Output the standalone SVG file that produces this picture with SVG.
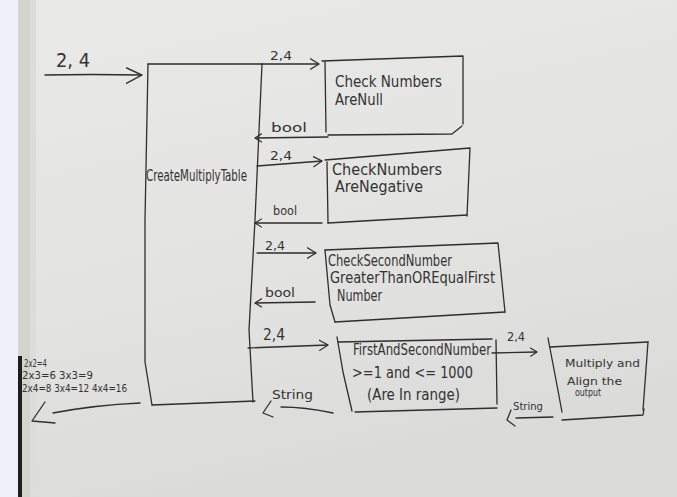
<svg xmlns="http://www.w3.org/2000/svg" width="677" height="497" viewBox="0 0 677 497">
  <defs>
    <linearGradient id="paper" x1="0" y1="0" x2="0.3" y2="1">
      <stop offset="0" stop-color="#e9e9e7"/>
      <stop offset="0.6" stop-color="#e3e3e1"/>
      <stop offset="1" stop-color="#dbdbd9"/>
    </linearGradient>
    <marker id="chev" viewBox="0 0 10 12" refX="10" refY="6" markerWidth="9" markerHeight="12" markerUnits="userSpaceOnUse" orient="auto">
      <path d="M0,0 L10,6 L0,12" fill="none" stroke="#2e2e2e" stroke-width="1.3"/>
    </marker>
    <marker id="chevBig" viewBox="0 0 16 18" refX="16" refY="8" markerWidth="16" markerHeight="18" markerUnits="userSpaceOnUse" orient="auto">
      <path d="M0,1 L16,8 L0,17" fill="none" stroke="#2e2e2e" stroke-width="1.4"/>
    </marker>
    <marker id="chevSmall" viewBox="0 0 8 10" refX="8" refY="5" markerWidth="7" markerHeight="10" markerUnits="userSpaceOnUse" orient="auto">
      <path d="M0,0 L8,5 L0,10" fill="none" stroke="#2e2e2e" stroke-width="1.3"/>
    </marker>
  </defs>
  <style>
    .ink { fill: none; stroke: #2e2e2e; stroke-width: 1.3; stroke-linecap: round; stroke-linejoin: round; }
    .arrow { marker-end: url(#chev); }
    .back { marker-end: url(#chevSmall); }
    text { font-family: "DejaVu Sans Condensed", "DejaVu Sans", sans-serif; fill: #333333; }
    .lbl { font-size: 15px; }
    .flow { font-size: 13px; }
    .tiny { font-size: 10px; }
  </style>

  <!-- page, paper edge and binding shadow -->
  <rect x="0" y="0" width="677" height="497" fill="url(#paper)"/>
  <rect x="0" y="0" width="18" height="497" fill="#eef2f8"/>
  <rect x="18" y="0" width="12" height="497" fill="#d4d4cf"/>
  <rect x="30" y="0" width="6" height="497" fill="#dcdcd8"/>
  <rect x="18" y="356" width="4" height="141" fill="#1e1e1e"/>

  <!-- calling function -->
  <g id="create-multiply-table">
    <path class="ink" d="M148,64 L262,64"/>
    <path class="ink" d="M148,64 L145,220 L145,362 L152,405"/>
    <path class="ink" d="M152,405 L255,401"/>
    <path class="ink" d="M262,64 L255,220 L249,330 L253,402"/>
    <text class="lbl" x="146" y="181" font-size="14" textLength="101" lengthAdjust="spacingAndGlyphs">CreateMultiplyTable</text>
  </g>

  <g id="check-null">
    <path class="ink" d="M322,61 L463,56 L463,124"/>
    <path class="ink" d="M325,62 L326,132"/>
    <path class="ink" d="M328,135 L452,134 L462,126"/>
    <text class="lbl" x="335" y="87" textLength="107" lengthAdjust="spacingAndGlyphs">Check Numbers</text>
    <text class="lbl" x="335" y="105" textLength="48" lengthAdjust="spacingAndGlyphs">AreNull</text>
  </g>

  <g id="check-negative">
    <path class="ink" d="M325,160 L470,148 L467,216"/>
    <path class="ink" d="M327,162 L328,223"/>
    <path class="ink" d="M328,223 L467,215"/>
    <text class="lbl" x="332" y="175" textLength="110" lengthAdjust="spacingAndGlyphs">CheckNumbers</text>
    <text class="lbl" x="335" y="192" textLength="88" lengthAdjust="spacingAndGlyphs">AreNegative</text>
  </g>

  <g id="check-order">
    <path class="ink" d="M325,250 L498,243 L505,312"/>
    <path class="ink" d="M325,250 L330,305 L335,322"/>
    <path class="ink" d="M335,322 L505,312"/>
    <text class="lbl" x="328" y="266" font-size="14" textLength="124" lengthAdjust="spacingAndGlyphs">CheckSecondNumber</text>
    <text class="lbl" x="330" y="283" font-size="14" textLength="165" lengthAdjust="spacingAndGlyphs">GreaterThanOREqualFirst</text>
    <text class="lbl" x="337" y="301" font-size="14" textLength="45" lengthAdjust="spacingAndGlyphs">Number</text>
  </g>

  <g id="check-range">
    <path class="ink" d="M338,342 L492,339"/>
    <path class="ink" d="M337,337 L343,372 L352,411"/>
    <path class="ink" d="M496,340 L497,404"/>
    <path class="ink" d="M355,412 L497,408"/>
    <text class="lbl" x="353" y="355" font-size="12.5" textLength="138" lengthAdjust="spacingAndGlyphs">FirstAndSecondNumber</text>
    <text class="lbl" x="352" y="378" textLength="121" lengthAdjust="spacingAndGlyphs">&gt;=1 and &lt;= 1000</text>
    <text class="lbl" x="367" y="400" textLength="93" lengthAdjust="spacingAndGlyphs">(Are In range)</text>
  </g>

  <g id="multiply-align">
    <path class="ink" d="M550,347 L648,342"/>
    <path class="ink" d="M548,338 L556,380 L562,412"/>
    <path class="ink" d="M648,342 L643,410"/>
    <path class="ink" d="M562,420 L643,415 L644,409"/>
    <text class="tiny" x="565" y="367" font-size="11" textLength="75" lengthAdjust="spacingAndGlyphs">Multiply and</text>
    <text class="tiny" x="567" y="385" font-size="11" textLength="55" lengthAdjust="spacingAndGlyphs">Align the</text>
    <text class="tiny" x="575" y="396" textLength="26" lengthAdjust="spacingAndGlyphs">output</text>
  </g>

  <g id="result">
    <text class="tiny" x="24" y="367" textLength="23" lengthAdjust="spacingAndGlyphs">2x2=4</text>
    <text class="tiny" x="22" y="379" textLength="71" lengthAdjust="spacingAndGlyphs">2x3=6 3x3=9</text>
    <text class="tiny" x="22" y="392" textLength="105" lengthAdjust="spacingAndGlyphs">2x4=8 3x4=12 4x4=16</text>
  </g>

  <g id="connectors">
    <!-- input -->
    <path class="ink" d="M45,75 Q90,74 142,75" marker-end="url(#chevBig)"/>
    <text x="56" y="67" font-size="20" textLength="34" lengthAdjust="spacingAndGlyphs">2, 4</text>

    <!-- null check -->
    <path class="ink arrow" d="M262,64 L319,64"/>
    <text class="flow" x="270" y="60" textLength="22" lengthAdjust="spacingAndGlyphs">2,4</text>
    <path class="ink back" d="M328,137 L255,138"/>
    <text class="flow" x="271" y="132" textLength="36" lengthAdjust="spacingAndGlyphs">bool</text>

    <!-- negative check -->
    <path class="ink arrow" d="M257,166 L322,161"/>
    <text class="flow" x="270" y="160" textLength="22" lengthAdjust="spacingAndGlyphs">2,4</text>
    <path class="ink back" d="M322,223 L255,223"/>
    <text class="flow" x="273" y="215" textLength="24" lengthAdjust="spacingAndGlyphs">bool</text>

    <!-- order check -->
    <path class="ink arrow" d="M257,253 L316,253"/>
    <text class="flow" x="265" y="250" textLength="20" lengthAdjust="spacingAndGlyphs">2,4</text>
    <path class="ink back" d="M315,302 L255,303"/>
    <text class="flow" x="265" y="297" textLength="30" lengthAdjust="spacingAndGlyphs">bool</text>

    <!-- range check -->
    <path class="ink arrow" d="M248,348 L328,345"/>
    <text x="263" y="340" font-size="16" textLength="22" lengthAdjust="spacingAndGlyphs">2,4</text>
    <path class="ink" d="M333,413 Q305,407 281,407"/>
    <path class="ink" d="M271,401 L263,413 L273,417"/>
    <text class="flow" x="272" y="399" textLength="41" lengthAdjust="spacingAndGlyphs">String</text>

    <!-- multiply and align -->
    <path class="ink" d="M492,353 L537,352" marker-end="url(#chevSmall)"/>
    <text class="flow" x="507" y="341" textLength="18" lengthAdjust="spacingAndGlyphs">2,4</text>
    <path class="ink" d="M553,417 L516,418"/>
    <path class="ink" d="M511,410 L507,420 L515,426"/>
    <text class="tiny" x="513" y="410" textLength="30" lengthAdjust="spacingAndGlyphs">String</text>

    <!-- output -->
    <path class="ink" d="M140,403 Q95,405 53,413"/>
    <path class="ink" d="M45,402 L32,421 L55,423"/>
  </g>
</svg>
